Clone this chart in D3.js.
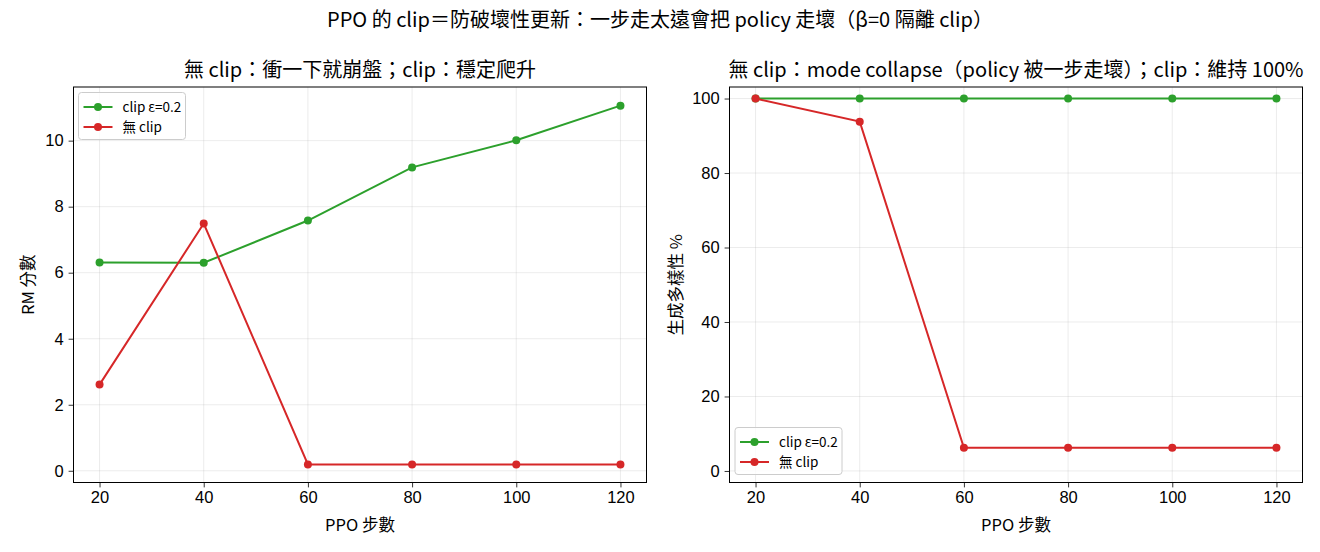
<!DOCTYPE html>
<html><head><meta charset="utf-8">
<script src="https://cdn.jsdelivr.net/npm/d3@7/dist/d3.min.js"></script>
<style>
body{margin:0;background:#fff;}
svg{display:block;font-family:"Noto Sans CJK TC","Noto Sans CJK SC","Noto Sans",sans-serif;}
</style></head>
<body>
<svg id="c" width="1320" height="552"></svg>
<script>
const steps = [20, 40, 60, 80, 100, 120];
const xTicks = [20, 40, 60, 80, 100, 120];
const rmClip = [6.31, 6.30, 7.58, 9.19, 10.01, 11.06];
const rmNoClip = [2.61, 7.49, 0.19, 0.19, 0.19, 0.19];
const divClip = [100, 100, 100, 100, 100, 100];
const divNoClip = [100, 93.8, 6.25, 6.25, 6.25, 6.25];
const leftYTicks = [0, 2, 4, 6, 8, 10];
const rightYTicks = [0, 20, 40, 60, 80, 100];
const seriesNames = ["clip ε=0.2", "無 clip"];
const colors = ["#2ca02c", "#d62728"];
const suptitle = "PPO 的 clip＝防破壞性更新：一步走太遠會把 policy 走壞（β=0 隔離 clip）";
const titles = ["無 clip：衝一下就崩盤；clip：穩定爬升", "無 clip：mode collapse（policy 被一步走壞）；clip：維持 100%"];
const xLabel = "PPO 步數";
const yLabels = ["RM 分數", "生成多樣性 %"];

const svg = d3.select("#c");
svg.append("text").attr("x", 660).attr("y", 27).attr("text-anchor", "middle")
  .attr("font-size", 20).attr("fill", "#000").text(suptitle);

function panel(opts) {
  const {left, right, top, bottom, yDomain, yTicks, data, title, ylabel, legendPos, ylabelX} = opts;
  const g = svg.append("g");
  const x = d3.scaleLinear().domain([15, 125]).range([left, right]);
  const y = d3.scaleLinear().domain(yDomain).range([bottom, top]);
  g.append("g").selectAll("line").data(xTicks).join("line")
    .attr("x1", d => x(d)).attr("x2", d => x(d)).attr("y1", top).attr("y2", bottom)
    .attr("stroke", "#b0b0b0").attr("stroke-opacity", 0.3).attr("stroke-width", 0.8);
  g.append("g").selectAll("line").data(yTicks).join("line")
    .attr("y1", d => y(d)).attr("y2", d => y(d)).attr("x1", left).attr("x2", right)
    .attr("stroke", "#b0b0b0").attr("stroke-opacity", 0.3).attr("stroke-width", 0.8);
  const xa = g.append("g").attr("transform", `translate(0,${bottom})`)
    .call(d3.axisBottom(x).tickValues(xTicks).tickSize(4.9).tickPadding(4));
  const ya = g.append("g").attr("transform", `translate(${left},0)`)
    .call(d3.axisLeft(y).tickValues(yTicks).tickSize(4.9).tickPadding(4.9));
  [xa, ya].forEach(a => {
    a.select(".domain").remove();
    a.selectAll("text").attr("font-size", 16.5).attr("fill", "#000").attr("font-family", "inherit");
    a.selectAll("line").attr("stroke", "#000").attr("stroke-width", 0.8);
  });
  const line = d3.line().x((d, i) => x(steps[i])).y(d => y(d));
  data.forEach((s, k) => {
    g.append("path").datum(s).attr("d", line).attr("fill", "none")
      .attr("stroke", colors[k]).attr("stroke-width", 2);
    g.append("g").selectAll("circle").data(s).join("circle")
      .attr("cx", (d, i) => x(steps[i])).attr("cy", d => y(d)).attr("r", 4)
      .attr("fill", colors[k]);
  });
  g.append("rect").attr("x", left).attr("y", top).attr("width", right - left).attr("height", bottom - top)
    .attr("fill", "none").attr("stroke", "#000").attr("stroke-width", 1);
  g.append("text").attr("x", (left + right) / 2).attr("y", top - 10).attr("text-anchor", "middle")
    .attr("font-size", 20).attr("fill", "#000").text(title);
  g.append("text").attr("x", (left + right) / 2).attr("y", 531).attr("text-anchor", "middle")
    .attr("font-size", 16.5).attr("fill", "#000").text(xLabel);
  g.append("text").attr("transform", `translate(${ylabelX},${(top + bottom) / 2}) rotate(-90)`)
    .attr("text-anchor", "middle").attr("font-size", 16.5).attr("fill", "#000").text(ylabel);
  const lg = g.append("g").attr("transform", `translate(${legendPos[0]},${legendPos[1]})`);
  lg.append("rect").attr("x", 0).attr("y", 0).attr("width", 107).attr("height", 47).attr("rx", 3)
    .attr("fill", "#fff").attr("fill-opacity", 0.8).attr("stroke", "#cccccc").attr("stroke-width", 1);
  seriesNames.forEach((n, k) => {
    const yy = 14.5 + k * 20;
    lg.append("line").attr("x1", 5).attr("x2", 34).attr("y1", yy).attr("y2", yy)
      .attr("stroke", colors[k]).attr("stroke-width", 2);
    lg.append("circle").attr("cx", 19.5).attr("cy", yy).attr("r", 4).attr("fill", colors[k]);
    lg.append("text").attr("x", 44).attr("y", yy).attr("dy", "0.35em").attr("font-size", 13.5)
      .attr("fill", "#000").text(n);
  });
}

panel({left: 73.5, right: 646.5, top: 87, bottom: 482.5, yDomain: [-0.355, 11.625], yTicks: leftYTicks,
  data: [rmClip, rmNoClip], title: titles[0], ylabel: yLabels[0], legendPos: [78.5, 92.5], ylabelX: 34});
panel({left: 729.5, right: 1302.5, top: 87, bottom: 482.5, yDomain: [-3.1, 103.1], yTicks: rightYTicks,
  data: [divClip, divNoClip], title: titles[1], ylabel: yLabels[1], legendPos: [735, 427.5], ylabelX: 682});
</script>
</body></html>
